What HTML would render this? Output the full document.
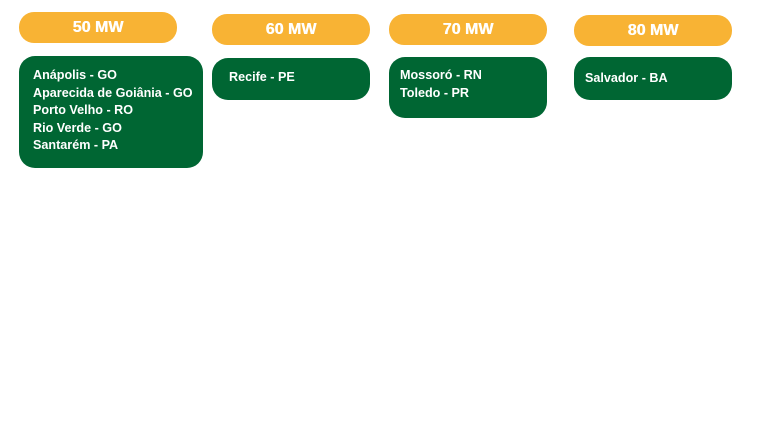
<!DOCTYPE html>
<html><head><meta charset="utf-8"><style>
body{margin:0;width:768px;height:432px;background:#fff;position:relative;overflow:hidden;font-family:"Liberation Sans",sans-serif}
.y{position:absolute;background:#F8B334;border-radius:15px;color:#fff;font-weight:bold;font-size:16px;text-align:center;height:31px;line-height:31px;width:158px;text-shadow:0.4px 0 0 #fff}
.g{position:absolute;background:#006633;border-radius:16px;color:#fff;font-size:12.6px;font-weight:bold;line-height:17.5px;box-sizing:border-box}
</style></head><body>
<div class="y" style="left:19px;top:12px">50 MW</div>
<div class="y" style="left:212px;top:14px">60 MW</div>
<div class="y" style="left:389px;top:14px">70 MW</div>
<div class="y" style="left:574px;top:15px">80 MW</div>
<div class="g" style="left:19px;top:56px;width:184px;height:112px;padding:11px 0 0 14px">Anápolis - GO<br>Aparecida de Goiânia - GO<br>Porto Velho - RO<br>Rio Verde - GO<br>Santarém - PA</div>
<div class="g" style="left:212px;top:58px;width:158px;height:42px;padding:11px 0 0 17px">Recife - PE</div>
<div class="g" style="left:389px;top:57px;width:158px;height:61px;padding:10px 0 0 11px">Mossoró - RN<br>Toledo - PR</div>
<div class="g" style="left:574px;top:57px;width:158px;height:43px;padding:13px 0 0 11px">Salvador - BA</div>
</body></html>
